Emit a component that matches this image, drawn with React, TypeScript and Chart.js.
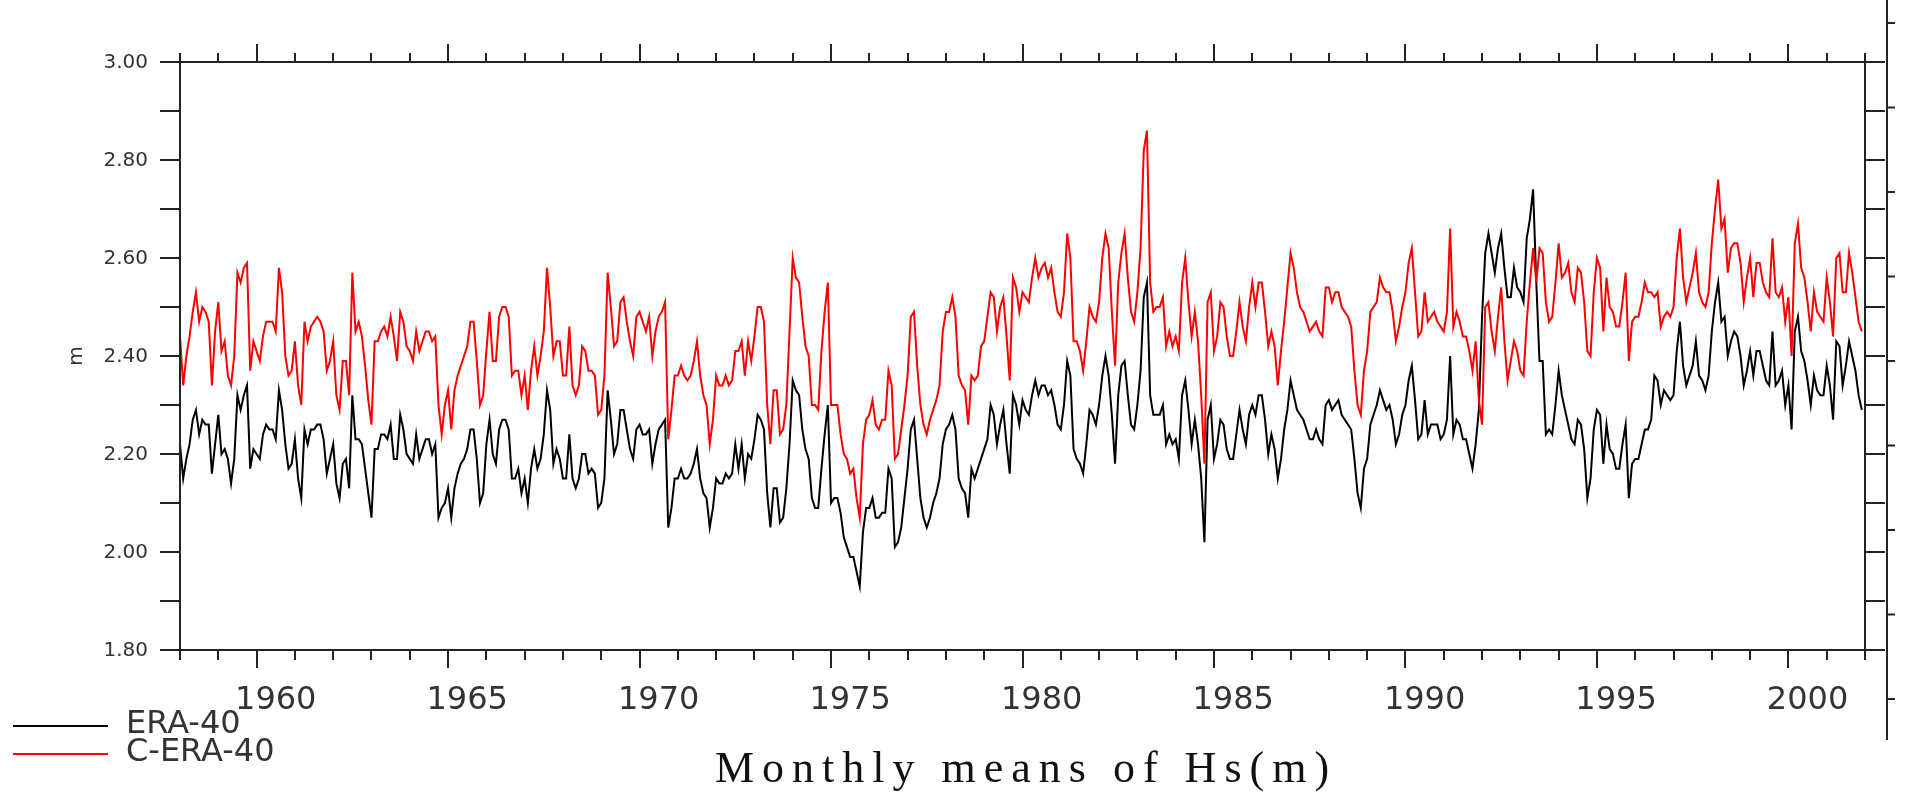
import React, { useEffect, useRef } from "react";
import { Chart, registerables } from "chart.js";

Chart.register(...registerables);

// ---------------- DATA ----------------
const START_YEAR = 1958; // first monthly value = Jan 1958
const X_MIN = 1958;
const X_MAX = 2002;
const Y_MIN = 1.8;
const Y_MAX = 3.0;

// ERA-40 monthly means of Hs (m)
const era40_a = [2.22,2.15,2.19,2.22,2.27,2.29,2.24,2.27,2.26,2.26,2.16,2.22,2.28,2.20,2.21,2.19,2.14,2.19,2.32,2.29,2.32,2.34,2.17,2.21,2.20,2.19,2.24,2.26,2.25,2.25,2.23,2.33,2.29,2.22,2.17,2.18,2.23,2.15,2.11,2.25,2.22,2.25,2.25,2.26,2.26,2.23,2.16,2.19,2.22,2.14,2.11,2.18,2.19,2.13,2.32,2.23,2.23,2.22,2.17,2.12,2.07,2.21,2.21,2.24,2.24,2.23];
const era40_b = [2.26,2.19,2.19,2.28,2.25,2.20,2.19,2.18,2.24,2.19,2.21,2.23,2.23,2.20,2.22,2.07,2.09,2.10,2.13,2.07,2.13,2.16,2.18,2.19,2.21,2.25,2.25,2.19,2.10,2.12,2.22,2.27,2.20,2.18,2.25,2.27,2.27,2.25,2.15,2.15,2.17,2.12,2.15,2.10,2.17,2.21,2.17,2.19,2.24,2.33,2.29,2.18,2.21,2.19,2.15,2.15,2.24,2.15,2.13,2.15,2.20,2.20,2.16,2.17,2.16,2.09];
const era40_c = [2.10,2.15,2.33,2.27,2.20,2.22,2.29,2.29,2.25,2.21,2.19,2.25,2.26,2.24,2.24,2.25,2.18,2.22,2.25,2.26,2.27,2.05,2.09,2.15,2.15,2.17,2.15,2.15,2.16,2.18,2.21,2.15,2.12,2.11,2.05,2.09,2.15,2.14,2.14,2.16,2.15,2.16,2.22,2.17,2.22,2.15,2.20,2.19,2.23,2.28,2.27,2.25,2.12,2.05,2.13,2.13,2.06,2.07,2.13,2.22,2.35,2.33,2.32,2.25,2.21,2.19];
const era40_d = [2.11,2.09,2.09,2.17,2.24,2.30,2.10,2.11,2.11,2.08,2.03,2.01,1.99,1.99,1.96,1.93,2.04,2.09,2.09,2.11,2.07,2.07,2.08,2.08,2.17,2.15,2.01,2.02,2.05,2.11,2.17,2.25,2.27,2.19,2.11,2.07,2.05,2.07,2.10,2.12,2.15,2.22,2.25,2.26,2.28,2.25,2.15,2.13,2.12,2.07,2.17,2.15,2.17,2.19,2.21,2.23,2.30,2.28,2.22,2.26,2.29,2.22,2.16,2.32,2.30,2.26];
const era40_e = [2.31,2.29,2.28,2.32,2.35,2.32,2.34,2.34,2.32,2.33,2.30,2.26,2.25,2.30,2.39,2.36,2.21,2.19,2.18,2.16,2.22,2.29,2.28,2.26,2.30,2.36,2.40,2.36,2.28,2.18,2.32,2.38,2.39,2.32,2.26,2.25,2.30,2.37,2.52,2.55,2.32,2.28,2.28,2.28,2.30,2.22,2.24,2.22,2.23,2.19,2.32,2.35,2.29,2.22,2.27,2.22,2.15,2.02,2.27,2.30,2.19,2.22,2.27,2.26,2.21,2.19];
const era40_f = [2.19,2.24,2.29,2.25,2.22,2.28,2.30,2.28,2.32,2.32,2.27,2.20,2.24,2.21,2.15,2.19,2.25,2.29,2.35,2.32,2.29,2.28,2.27,2.25,2.23,2.23,2.25,2.23,2.22,2.30,2.31,2.29,2.30,2.31,2.28,2.27,2.26,2.25,2.19,2.12,2.09,2.17,2.19,2.26,2.28,2.30,2.33,2.31,2.29,2.30,2.27,2.22,2.24,2.28,2.30,2.35,2.38,2.31,2.23,2.24,2.31,2.24,2.26,2.26,2.26];
const era40_g = [2.23,2.24,2.27,2.40,2.24,2.27,2.26,2.23,2.23,2.20,2.17,2.22,2.29,2.48,2.61,2.65,2.61,2.57,2.62,2.65,2.58,2.52,2.52,2.58,2.54,2.53,2.51,2.64,2.68,2.74,2.55,2.39,2.39,2.24,2.25,2.24,2.30,2.37,2.32,2.29,2.26,2.23,2.22,2.27,2.26,2.21,2.11,2.15,2.25,2.29,2.28,2.18,2.26,2.21,2.20,2.17,2.17,2.22,2.26,2.11,2.18,2.19,2.19,2.22,2.25,2.25];
const era40_h = [2.27,2.36,2.35,2.30,2.33,2.32,2.31,2.32,2.41,2.47,2.38,2.34,2.36,2.38,2.43,2.36,2.35,2.33,2.36,2.45,2.51,2.55,2.47,2.48,2.40,2.43,2.45,2.44,2.40,2.34,2.37,2.41,2.36,2.41,2.41,2.38,2.35,2.34,2.45,2.34,2.35,2.37,2.30,2.34,2.25,2.45,2.48,2.41,2.39,2.35,2.30,2.36,2.33,2.32,2.32,2.38,2.34,2.27,2.43,2.42,2.34,2.38,2.43,2.40,2.37,2.32,2.29];

// C-ERA-40 monthly means of Hs (m)
const cera40_a = [2.44,2.34,2.40,2.44,2.49,2.53,2.47,2.50,2.49,2.47,2.34,2.45,2.51,2.41,2.43,2.36,2.34,2.40,2.57,2.55,2.58,2.59,2.37,2.43,2.41,2.39,2.44,2.47,2.47,2.47,2.45,2.58,2.53,2.40,2.36,2.37,2.43,2.34,2.30,2.47,2.43,2.46,2.47,2.48,2.47,2.45,2.37,2.39,2.43,2.32,2.29,2.39,2.39,2.32,2.57,2.45,2.47,2.44,2.38,2.31,2.26,2.43,2.43,2.45,2.46,2.44];
const cera40_b = [2.48,2.44,2.39,2.49,2.47,2.42,2.41,2.39,2.45,2.41,2.43,2.45,2.45,2.43,2.44,2.30,2.24,2.30,2.33,2.25,2.33,2.36,2.38,2.40,2.42,2.47,2.47,2.39,2.30,2.32,2.41,2.49,2.39,2.39,2.48,2.50,2.50,2.48,2.36,2.37,2.37,2.32,2.36,2.29,2.37,2.42,2.36,2.40,2.45,2.58,2.50,2.40,2.43,2.43,2.36,2.36,2.46,2.34,2.32,2.34,2.42,2.41,2.37,2.37,2.36,2.28];
const cera40_c = [2.29,2.36,2.57,2.50,2.42,2.43,2.51,2.52,2.47,2.43,2.40,2.48,2.49,2.47,2.45,2.48,2.40,2.45,2.48,2.49,2.51,2.23,2.29,2.36,2.36,2.38,2.36,2.35,2.36,2.39,2.43,2.36,2.32,2.30,2.22,2.27,2.36,2.34,2.34,2.36,2.34,2.35,2.41,2.41,2.43,2.36,2.43,2.39,2.44,2.50,2.50,2.47,2.30,2.22,2.33,2.33,2.24,2.25,2.30,2.45,2.60,2.56,2.55,2.48,2.42,2.40];
const cera40_d = [2.30,2.30,2.29,2.41,2.49,2.55,2.30,2.30,2.30,2.24,2.20,2.19,2.16,2.17,2.11,2.07,2.22,2.27,2.28,2.31,2.26,2.25,2.27,2.27,2.37,2.34,2.19,2.20,2.25,2.30,2.36,2.48,2.49,2.38,2.30,2.26,2.24,2.27,2.29,2.31,2.34,2.45,2.49,2.49,2.52,2.48,2.36,2.34,2.33,2.26,2.36,2.35,2.36,2.42,2.43,2.48,2.53,2.52,2.45,2.50,2.52,2.44,2.35,2.56,2.54,2.49];
const cera40_e = [2.53,2.52,2.51,2.56,2.60,2.56,2.58,2.59,2.56,2.58,2.53,2.49,2.48,2.53,2.65,2.60,2.43,2.43,2.41,2.37,2.43,2.50,2.48,2.47,2.51,2.60,2.65,2.62,2.49,2.38,2.55,2.61,2.65,2.56,2.49,2.47,2.53,2.62,2.82,2.86,2.55,2.49,2.50,2.50,2.52,2.42,2.45,2.42,2.44,2.41,2.55,2.60,2.51,2.44,2.49,2.43,2.32,2.18,2.51,2.53,2.41,2.44,2.51,2.50,2.44,2.40];
const cera40_f = [2.40,2.45,2.51,2.46,2.43,2.50,2.55,2.50,2.55,2.55,2.49,2.42,2.45,2.42,2.34,2.41,2.47,2.54,2.61,2.58,2.53,2.50,2.49,2.47,2.45,2.46,2.47,2.45,2.44,2.54,2.54,2.51,2.53,2.53,2.50,2.49,2.48,2.46,2.37,2.30,2.28,2.37,2.41,2.49,2.50,2.51,2.56,2.54,2.53,2.53,2.49,2.43,2.46,2.50,2.53,2.59,2.62,2.53,2.44,2.45,2.53,2.47,2.48,2.49,2.47];
const cera40_g = [2.46,2.45,2.49,2.66,2.46,2.49,2.47,2.44,2.44,2.41,2.37,2.43,2.31,2.26,2.50,2.51,2.45,2.41,2.48,2.54,2.43,2.35,2.39,2.43,2.41,2.37,2.36,2.47,2.55,2.62,2.55,2.62,2.61,2.51,2.47,2.48,2.55,2.63,2.56,2.57,2.59,2.53,2.51,2.58,2.57,2.51,2.41,2.40,2.53,2.60,2.58,2.45,2.56,2.50,2.49,2.46,2.46,2.51,2.57,2.39,2.47,2.48,2.48,2.51,2.55,2.53];
const cera40_h = [2.53,2.52,2.53,2.46,2.48,2.49,2.48,2.50,2.60,2.66,2.56,2.51,2.54,2.57,2.61,2.53,2.51,2.50,2.53,2.63,2.70,2.76,2.66,2.68,2.57,2.62,2.63,2.63,2.59,2.51,2.56,2.60,2.52,2.59,2.59,2.55,2.53,2.52,2.64,2.53,2.52,2.54,2.47,2.52,2.40,2.63,2.67,2.58,2.56,2.51,2.45,2.53,2.49,2.48,2.47,2.56,2.51,2.44,2.60,2.61,2.53,2.53,2.61,2.57,2.52,2.47,2.45];

const era40 = [era40_a, era40_b, era40_c, era40_d, era40_e, era40_f, era40_g, era40_h].flat();
const cera40 = [cera40_a, cera40_b, cera40_c, cera40_d, cera40_e, cera40_f, cera40_g, cera40_h].flat();

const yLabelValues = [1.8, 2.0, 2.2, 2.4, 2.6, 2.8, 3.0];
const xLabelYears = [1960, 1965, 1970, 1975, 1980, 1985, 1990, 1995, 2000];
const seriesNames = ["ERA-40", "C-ERA-40"];
const titleText = "Monthly means of Hs(m)";
const yAxisTitle = "m";

// ---------------- STYLE ----------------
const AXIS = "#222";
const TEXT = "#333";

const toPoints = (vals: number[]) => vals.map((v, i) => ({ x: START_YEAR + i / 12, y: v }));

const decorPlugin = {
  id: "decor",
  afterDraw(chart: any) {
    const { ctx, chartArea: a, scales } = chart;
    const xs = scales.x;
    const ys = scales.y;
    ctx.save();
    ctx.strokeStyle = AXIS;
    ctx.lineWidth = 2;
    ctx.lineCap = "butt";
    ctx.strokeRect(a.left, a.top, a.right - a.left, a.bottom - a.top);

    ctx.beginPath();
    // y ticks every 0.1 on both sides, pointing outwards
    const nY = Math.round((Y_MAX - Y_MIN) / 0.1);
    for (let k = 0; k <= nY; k++) {
      const py = Math.round(ys.getPixelForValue(Y_MIN + k * 0.1));
      ctx.moveTo(a.left - 20, py);
      ctx.lineTo(a.left, py);
      ctx.moveTo(a.right, py);
      ctx.lineTo(a.right + 20, py);
    }
    // x ticks every year; longer every 5 years
    for (let yr = X_MIN; yr <= X_MAX; yr++) {
      const px = Math.round(xs.getPixelForValue(yr));
      const major = yr % 5 === 0;
      ctx.moveTo(px, a.bottom);
      ctx.lineTo(px, a.bottom + (major ? 18 : 10));
      ctx.moveTo(px, a.top);
      ctx.lineTo(px, a.top - (major ? 18 : 9));
    }
    ctx.stroke();

    // y labels
    ctx.fillStyle = TEXT;
    ctx.font = "20px 'DejaVu Sans'";
    ctx.textAlign = "right";
    ctx.textBaseline = "middle";
    yLabelValues.forEach((v) => {
      ctx.fillText(v.toFixed(2), a.left - 32, ys.getPixelForValue(v) + 1);
    });

    // x labels (centred in the labelled year)
    ctx.font = "32px 'DejaVu Sans'";
    ctx.textAlign = "center";
    ctx.textBaseline = "alphabetic";
    xLabelYears.forEach((yr) => {
      ctx.fillText(String(yr), xs.getPixelForValue(yr + 0.5), a.bottom + 59);
    });

    // y axis title
    ctx.save();
    ctx.translate(a.left - 103, (a.top + a.bottom) / 2);
    ctx.rotate(-Math.PI / 2);
    ctx.font = "20px 'DejaVu Sans'";
    ctx.textAlign = "center";
    ctx.textBaseline = "middle";
    ctx.fillText(yAxisTitle, 0, 0);
    ctx.restore();

    // legend
    const ds = chart.data.datasets;
    ctx.font = "32px 'DejaVu Sans'";
    ctx.textAlign = "left";
    ctx.textBaseline = "alphabetic";
    ds.forEach((d: any, i: number) => {
      const ly = a.bottom + 76 + i * 28;
      ctx.strokeStyle = d.borderColor;
      ctx.lineWidth = 2;
      ctx.beginPath();
      ctx.moveTo(13, ly);
      ctx.lineTo(108, ly);
      ctx.stroke();
      ctx.fillStyle = TEXT;
      ctx.fillText(d.label, 126, ly + 7);
    });

    // title
    ctx.fillStyle = "#111";
    ctx.font = "44px 'Liberation Serif'";
    (ctx as any).letterSpacing = "8px";
    ctx.textAlign = "center";
    ctx.fillText(titleText, 1026, 782);
    (ctx as any).letterSpacing = "0px";

    // clipped neighbouring panel axis at the far right
    ctx.strokeStyle = AXIS;
    ctx.lineWidth = 2;
    ctx.beginPath();
    const rx = a.right + 22;
    ctx.moveTo(rx, 0);
    ctx.lineTo(rx, 740);
    for (let k = 0; k < 9; k++) {
      const ty = 23 + k * 84.5;
      ctx.moveTo(rx, ty);
      ctx.lineTo(rx + 8, ty);
    }
    ctx.stroke();
    ctx.restore();
  },
};

export default function App() {
  const ref = useRef<HTMLCanvasElement>(null);
  useEffect(() => {
    const chart = new Chart(ref.current as HTMLCanvasElement, {
      type: "line",
      data: {
        datasets: [
          {
            label: seriesNames[0],
            data: toPoints(era40),
            borderColor: "#000000",
            borderWidth: 2,
            pointRadius: 0,
            fill: false,
            order: 1,
          },
          {
            label: seriesNames[1],
            data: toPoints(cera40),
            borderColor: "#ff0000",
            borderWidth: 2,
            pointRadius: 0,
            fill: false,
            order: 0,
          },
        ],
      },
      options: {
        animation: false,
        responsive: false,
        devicePixelRatio: 1,
        events: [],
        layout: { padding: { left: 180, top: 62, right: 43, bottom: 144 } },
        plugins: {
          legend: { display: false },
          tooltip: { enabled: false },
          title: { display: false },
        },
        elements: { line: { tension: 0 }, point: { radius: 0 } },
        scales: {
          x: { type: "linear", min: X_MIN, max: X_MAX, display: false },
          y: { type: "linear", min: Y_MIN, max: Y_MAX, display: false },
        },
      },
      plugins: [decorPlugin],
    });
    return () => chart.destroy();
  }, []);
  return (
    <div style={{ position: "fixed", left: 0, top: 0, width: 1908, height: 794, background: "#fff" }}>
      <canvas ref={ref} width={1908} height={794} style={{ display: "block", width: 1908, height: 794 }} />
    </div>
  );
}
